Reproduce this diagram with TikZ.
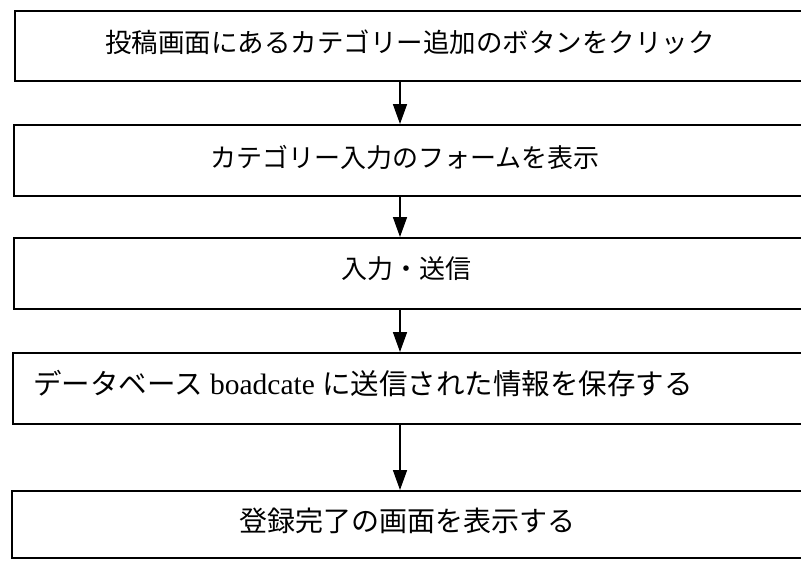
\documentclass[tikz,border=0pt]{standalone}
\usepackage{fontspec}
\setmainfont{Liberation Serif}
\newfontfamily\jp{Noto Sans CJK JP}
\usetikzlibrary{arrows.meta}
\begin{document}
\begin{tikzpicture}[x=1pt,y=-1pt,
  box/.style={draw, line width=1.6pt, inner sep=0pt, anchor=north west, minimum width=795pt},
  lbl/.style={inner sep=0pt},
  arr/.style={line width=1.6pt, -{Triangle[length=20pt,width=14pt]}}]
\fill[white] (0,0) rectangle (801,560);
\useasboundingbox (0,0) rectangle (801,560);
\begin{scope}
\clip (0,0) rectangle (801,560);
\node[box, minimum height=70pt] (b1) at (14,10) {};
\node[box, minimum height=71pt] (b2) at (13,124) {};
\node[box, minimum height=71pt] (b3) at (13,237) {};
\node[box, minimum height=71pt] (b4) at (12,352) {};
\node[box, minimum height=67pt] (b5) at (11,490) {};
\end{scope}
\node[lbl, font=\jp\fontsize{26.5}{30}\selectfont] (t1) at (410,42) {投稿画面にあるカテゴリー追加のボタンをクリック};
\node[lbl, font=\jp\fontsize{26}{30}\selectfont] (t2) at (405,157) {カテゴリー入力のフォームを表示};
\node[lbl, font=\jp\fontsize{26}{30}\selectfont] (t3) at (406,269) {入力・送信};
\node[lbl, anchor=west, font=\fontsize{29.5}{30}\selectfont] (t4) at (33,384) {{\jp\fontsize{28.5}{30}\selectfont データベース} boadcate {\jp\fontsize{28.5}{30}\selectfont に送信された情報を保存する}};
\node[lbl, font=\jp\fontsize{28}{30}\selectfont] (t5) at (407,521) {登録完了の画面を表示する};
\coordinate (ax) at (400,0);
\draw[arr] (b1.south -| ax) -- (b2.north -| ax);
\draw[arr] (b2.south -| ax) -- (b3.north -| ax);
\draw[arr] (b3.south -| ax) -- (b4.north -| ax);
\draw[arr] (b4.south -| ax) -- (b5.north -| ax);
\end{tikzpicture}
\end{document}
